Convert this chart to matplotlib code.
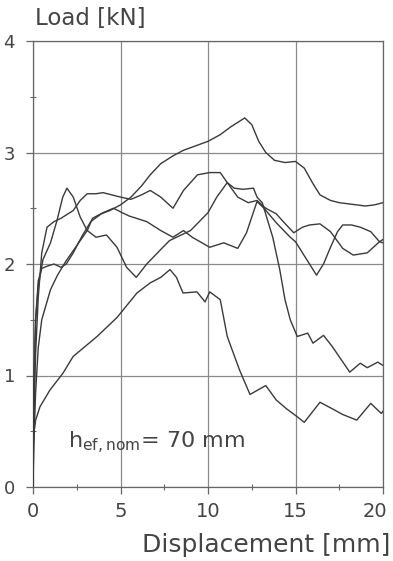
import numpy as np
import matplotlib.pyplot as plt
import matplotlib.transforms as mtransforms
from matplotlib.ticker import MultipleLocator

# load-displacement curves (displacement in mm, load in kN)
disp_a = [0, 0.05, 0.15, 0.3, 0.5, 0.8, 1.2, 1.6, 1.9, 2.3, 2.8, 3.3, 3.9, 4.4, 5.0,
          5.6, 6.2, 6.7, 7.3, 8.0, 8.6, 9.3, 10.0, 10.7, 11.3, 11.7, 12.1, 12.5, 12.9,
          13.3, 13.8, 14.4, 15.0, 15.5, 16.0, 16.4, 17.0, 17.5, 18.0, 18.5, 19.0, 19.5, 20.0]
load_a = [0, 0.9, 1.5, 1.85, 1.96, 1.98, 2.0, 1.97, 2.0, 2.1, 2.25, 2.38, 2.45, 2.48, 2.53,
          2.6, 2.7, 2.8, 2.9, 2.97, 3.02, 3.06, 3.1, 3.16, 3.23, 3.27, 3.31, 3.25, 3.1,
          3.0, 2.93, 2.91, 2.92, 2.86, 2.72, 2.62, 2.57, 2.55, 2.54, 2.53, 2.52, 2.53, 2.55]

disp_b = [0, 0.05, 0.15, 0.3, 0.57, 1.0, 1.37, 1.7, 1.94, 2.3, 2.7, 3.1, 3.6, 4.2, 4.8,
          5.35, 5.9, 6.5, 7.3, 7.8, 9.0, 10.0, 10.5, 11.1, 11.5, 12.0, 12.6, 12.8, 13.1,
          13.7, 14.1, 14.4, 14.7, 15.1, 15.7, 16.0, 16.6, 17.1, 18.1, 18.7, 19.1, 19.7, 20.0]
load_b = [0, 0.9, 1.5, 1.8, 2.04, 2.19, 2.39, 2.6, 2.68, 2.6, 2.42, 2.3, 2.24, 2.26, 2.15,
          1.97, 1.88, 2.0, 2.13, 2.21, 2.3, 2.46, 2.6, 2.73, 2.68, 2.67, 2.68, 2.6, 2.55,
          2.24, 1.95, 1.68, 1.5, 1.35, 1.38, 1.29, 1.36, 1.26, 1.03, 1.11, 1.07, 1.12, 1.09]

disp_c = [0, 0.05, 0.15, 0.3, 0.5, 0.8, 1.2, 1.6, 2.0, 2.3, 2.7, 3.1, 3.6, 4.0, 4.5,
          5.0, 5.6, 6.2, 6.7, 7.3, 8.0, 8.6, 9.4, 10.1, 10.7, 11.1, 11.7, 12.3, 12.8,
          13.3, 13.9, 14.3, 14.9, 15.4, 15.8, 16.4, 17.0, 17.7, 18.3, 19.1, 19.8, 20.0]
load_c = [0, 0.6, 1.2, 1.7, 2.1, 2.33, 2.38, 2.41, 2.45, 2.48, 2.57, 2.63, 2.63, 2.64, 2.62,
          2.6, 2.58, 2.62, 2.66, 2.6, 2.5, 2.66, 2.8, 2.82, 2.82, 2.73, 2.6, 2.55, 2.57,
          2.5, 2.45, 2.38, 2.28, 2.33, 2.35, 2.36, 2.29, 2.14, 2.08, 2.1, 2.2, 2.22]

disp_e = [0, 0.05, 0.15, 0.3, 0.5, 1.0, 1.4, 1.9, 2.3, 2.7, 3.1, 3.4, 4.0, 4.6, 5.1,
          5.5, 6.5, 7.3, 8.0, 8.6, 9.1, 10.1, 10.9, 11.7, 12.2, 12.8, 13.2, 13.9, 14.7,
          15.0, 15.4, 15.8, 16.2, 16.6, 17.0, 17.4, 17.7, 18.2, 18.7, 19.3, 19.8, 20.0]
load_e = [0, 0.4, 0.85, 1.25, 1.5, 1.77, 1.9, 2.03, 2.12, 2.21, 2.3, 2.41, 2.46, 2.5, 2.46,
          2.43, 2.38, 2.3, 2.24, 2.3, 2.24, 2.15, 2.19, 2.14, 2.28, 2.56, 2.5, 2.37, 2.24,
          2.2, 2.1, 2.0, 1.9, 2.0, 2.15, 2.29, 2.35, 2.35, 2.33, 2.29, 2.2, 2.19]

disp_d = [0, 0.02, 0.15, 0.4, 0.97, 1.71, 2.29, 3.66, 4.8, 5.94, 6.69, 7.3, 7.83, 8.2,
          8.57, 9.37, 9.83, 10.1, 10.7, 11.1, 11.8, 12.4, 13.3, 13.9, 14.5, 15.1, 15.5,
          16.4, 17.0, 17.7, 18.5, 19.3, 19.9, 20.0]
load_d = [0, 0.45, 0.6, 0.72, 0.87, 1.02, 1.17, 1.35, 1.52, 1.74, 1.83, 1.88, 1.95, 1.88,
          1.74, 1.75, 1.66, 1.75, 1.68, 1.35, 1.05, 0.83, 0.91, 0.78, 0.7, 0.63, 0.58,
          0.76, 0.71, 0.65, 0.6, 0.75, 0.66, 0.68]

x_ticks = [0, 5, 10, 15, 20]
y_ticks = [0, 1, 2, 3, 4]

plt.rcParams['font.family'] = ['DejaVu Sans']

fig = plt.figure(figsize=(3.93, 5.61), dpi=100)
ax = fig.add_axes([33 / 393, 1 - 487 / 561, 350 / 393, 446 / 561])

for d, l in [(disp_a, load_a), (disp_b, load_b), (disp_c, load_c),
             (disp_e, load_e), (disp_d, load_d)]:
    ax.plot(d, l, color='#3a3a3a', lw=1.0, zorder=3)

ax.set_xlim(0, 20)
ax.set_ylim(0, 4)
ax.set_xticks(x_ticks)
ax.set_yticks(y_ticks)
ax.xaxis.set_minor_locator(MultipleLocator(2.5))
ax.yaxis.set_minor_locator(MultipleLocator(0.5))
ax.tick_params(axis='x', which='major', direction='out', length=5, width=0.9,
               color='#666', labelsize=14, labelcolor='#444', pad=6)
ax.tick_params(axis='y', which='major', direction='out', length=5, width=0.9,
               color='#666', labelsize=13, labelcolor='#444', pad=8)
ax.tick_params(which='minor', direction='inout', length=5, width=0.8, color='#666')
ax.grid(True, which='major', color='#8a8a8a', lw=0.9)
for s in ax.spines.values():
    s.set_color('#666')
    s.set_linewidth(0.9)

# last x label sits a bit left in the original so it stays inside the page
last = ax.get_xticklabels()[-1]
last.set_transform(last.get_transform() +
                   mtransforms.ScaledTranslation(-8 / 100, 0, fig.dpi_scale_trans))

fig.text(35 / 393, 1 - 25 / 561, 'Load [kN]', fontsize=16.5, color='#444',
         ha='left', va='baseline')
fig.text(390 / 393, 1 - 552 / 561, 'Displacement [mm]', fontsize=18, color='#444',
         ha='right', va='baseline')
ax.text(2.0, 0.35, r'h$_{\mathregular{ef,nom}}$= 70 mm', fontsize=16, color='#444',
        ha='left', va='baseline')

fig.savefig('out.png', dpi=100)
